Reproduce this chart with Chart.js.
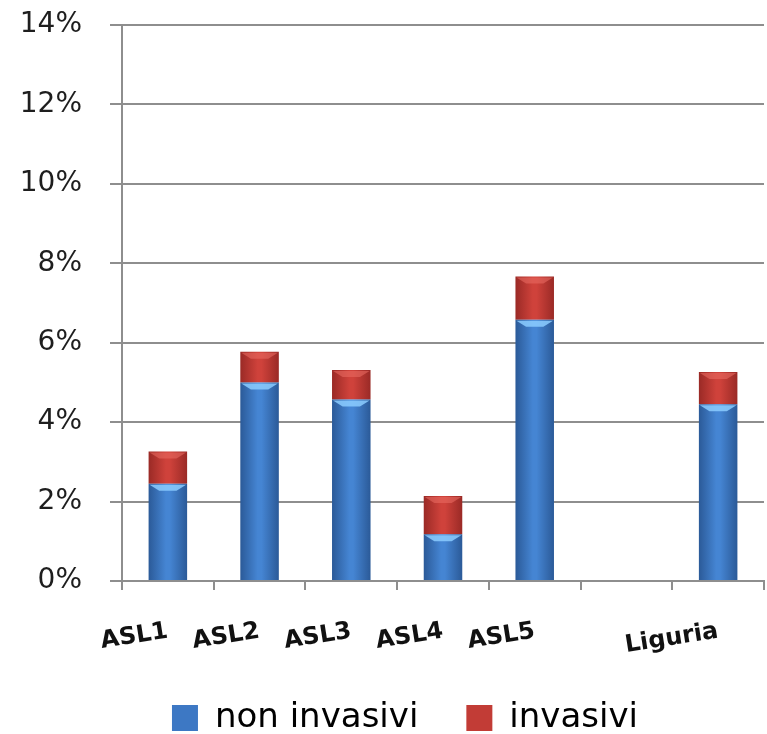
<!DOCTYPE html>
<html>
<head>
<meta charset="utf-8">
<script src="https://cdn.jsdelivr.net/npm/chart.js@4/dist/chart.umd.min.js"></script>
<style>
  html, body { margin: 0; padding: 0; background: #ffffff; }
  #wrap { width: 767px; height: 734px; position: relative; }
</style>
</head>
<body>
<div id="wrap"><canvas id="chart"></canvas></div>
<script>
// Categories along the x axis (one empty slot before the regional total)
const categories = ['ASL1', 'ASL2', 'ASL3', 'ASL4', 'ASL5', '', 'Liguria'];
// Percent values of each stacked segment
const nonInvasivi = [2.45, 5.00, 4.57, 1.18, 6.58, null, 4.45];
const invasivi    = [0.81, 0.77, 0.74, 0.96, 1.09, null, 0.81];
// Y axis tick values (percent)
const yTicks = [0, 2, 4, 6, 8, 10, 12, 14];

const BAR_PCT = 0.42;
const GRID = '#8e8e8e';

// Horizontal "cylinder" shading across each bar
function barFill(edge, mid) {
  return (c) => {
    const chart = c.chart;
    const xs = chart.scales.x;
    if (c.type !== 'data' || !xs || !chart.chartArea) return mid;
    const cx = xs.getPixelForValue(c.dataIndex);
    const w = xs.width / categories.length * BAR_PCT;
    const g = chart.ctx.createLinearGradient(cx - w / 2, 0, cx + w / 2, 0);
    g.addColorStop(0, edge);
    g.addColorStop(0.45, mid);
    g.addColorStop(0.55, mid);
    g.addColorStop(1, edge);
    return g;
  };
}

// Light bevel along the top of every segment
const bevelPlugin = {
  id: 'bevel',
  afterDatasetsDraw(chart) {
    const ctx = chart.ctx;
    chart.data.datasets.forEach((ds, di) => {
      const meta = chart.getDatasetMeta(di);
      meta.data.forEach((bar, i) => {
        if (ds.data[i] == null) return;
        const { x, y, base, width } = bar.getProps(['x', 'y', 'base', 'width'], true);
        const l = x - width / 2, r = x + width / 2;
        const h = Math.min(6, Math.abs(base - y) / 3);
        ctx.save();
        ctx.beginPath();
        ctx.moveTo(l + 1, y + 1);
        ctx.lineTo(r - 1, y + 1);
        ctx.lineTo(r - 1 - h * 1.6, y + 1 + h);
        ctx.lineTo(l + 1 + h * 1.6, y + 1 + h);
        ctx.closePath();
        ctx.fillStyle = ds.bevelColor;
        ctx.fill();
        ctx.restore();
      });
    });
  }
};

// Nudge the legend row right and down; let the slanted x labels
// extend below the x scale box without being clipped
const layoutTweaks = {
  id: 'layoutTweaks',
  afterLayout(chart) {
    const lg = chart.legend;
    if (lg) {
      lg.left += 23;
      lg.right += 23;
      lg.top += 15;
      lg.bottom += 15;
    }
    const xs = chart.scales.x;
    if (xs) xs.bottom = xs.top + 90;
  }
};

const chart = new Chart(document.getElementById('chart'), {
  type: 'bar',
  data: {
    labels: categories,
    datasets: [
      {
        label: 'non invasivi',
        data: nonInvasivi,
        backgroundColor: barFill('#2b5a98', '#4585d3'),
        legendColor: '#3d78c4',
        bevelColor: 'rgba(140, 205, 255, 0.85)',
        borderWidth: 0,
        barPercentage: BAR_PCT,
        categoryPercentage: 1
      },
      {
        label: 'invasivi',
        data: invasivi,
        backgroundColor: barFill('#9a2a26', '#cf423b'),
        legendColor: '#c23c36',
        bevelColor: 'rgba(235, 110, 100, 0.55)',
        borderWidth: 0,
        barPercentage: BAR_PCT,
        categoryPercentage: 1
      }
    ]
  },
  options: {
    responsive: true,
    maintainAspectRatio: false,
    animation: false,
    devicePixelRatio: 1,
    layout: { padding: { top: 25, right: 3, left: 0, bottom: 4 } },
    plugins: {
      tooltip: { enabled: false },
      legend: {
        position: 'bottom',
        labels: {
          boxWidth: 26,
          boxHeight: 26,
          padding: 48,
          color: '#111',
          font: { family: 'DejaVu Sans', size: 34 },
          generateLabels: (ch) => ch.data.datasets.map((ds, i) => ({
            text: ds.label,
            fillStyle: ds.legendColor,
            strokeStyle: ds.legendColor,
            lineWidth: 0,
            hidden: false,
            datasetIndex: i
          }))
        }
      }
    },
    scales: {
      x: {
        stacked: true,
        offset: true,
        grid: {
          offset: true,
          drawOnChartArea: false,
          drawTicks: true,
          tickLength: 9,
          color: GRID,
          lineWidth: 2
        },
        border: { color: GRID, width: 2 },
        ticks: {
          autoSkip: false,
          minRotation: 9,
          maxRotation: 9,
          padding: 27,
          color: '#111',
          font: { family: 'DejaVu Sans', weight: 'bold', size: 24 }
        },
        afterFit: (s) => { s.height = 57; }
      },
      y: {
        stacked: true,
        min: yTicks[0],
        max: yTicks[yTicks.length - 1],
        afterBuildTicks: (s) => { s.ticks = yTicks.map(v => ({ value: v })); },
        grid: { color: GRID, lineWidth: 2, tickLength: 12 },
        border: { color: GRID, width: 2 },
        ticks: {
          padding: 28,
          color: '#1e1e1e',
          font: { family: 'DejaVu Sans', size: 28 },
          callback: (v) => v + '%'
        },
        afterFit: (s) => {
          s.width = 122;
          s.paddingTop = 0;
          s.paddingBottom = 0;
        }
      }
    }
  },
  plugins: [bevelPlugin, layoutTweaks]
});
</script>
</body>
</html>
